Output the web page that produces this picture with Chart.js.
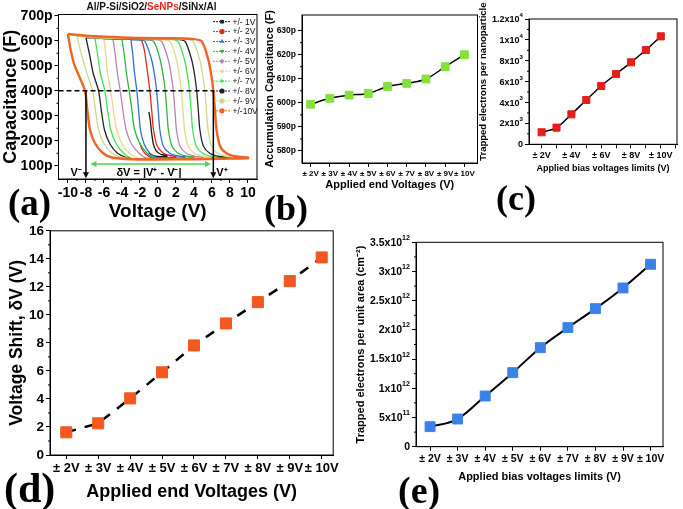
<!DOCTYPE html>
<html>
<head>
<meta charset="utf-8">
<script src="https://cdn.jsdelivr.net/npm/chart.js@4/dist/chart.umd.min.js"></script>
<style>
  body { margin: 0; background: #fff; width: 683px; height: 509px; position: relative; overflow: hidden; }
  canvas { position: absolute; }
  .tag { position: absolute; font-family: "Liberation Serif", "DejaVu Serif", serif; font-weight: bold; line-height: 1; color: #000; }
  #titleA { position: absolute; left: 0; width: 303px; top: 1px; text-align: center;
            font: bold 10px "Liberation Sans", Arial, sans-serif; color: #111; }
</style>
</head>
<body>
<canvas id="chartA"></canvas>
<canvas id="chartB"></canvas>
<canvas id="chartC"></canvas>
<canvas id="chartD"></canvas>
<canvas id="chartE"></canvas>
<div id="titleA">Al/P-Si/SiO2/<span style="color:#e3261b">SeNPs</span>/SiNx/Al</div>
<div class="tag" style="left:8px;top:184px;font-size:37px">(a)</div>
<div class="tag" style="left:264px;top:190px;font-size:36px">(b)</div>
<div class="tag" style="left:496px;top:180px;font-size:36px">(c)</div>
<div class="tag" style="left:4px;top:467px;font-size:42px">(d)</div>
<div class="tag" style="left:398px;top:471px;font-size:38px">(e)</div>
<script>
const SANS = '"Liberation Sans", Arial, sans-serif';

// ---- data (b)-(e): one point per sweep limit ----
const endVolts = [2, 3, 4, 5, 6, 7, 8, 9, 10];
const endLabels = ['± 2V', '± 3V', '± 4V', '± 5V', '± 6V', '± 7V', '± 8V', '± 9V', '± 10V'];
const accumCap = [599.4, 601.9, 603.2, 603.9, 606.8, 608.1, 609.9, 615.0, 620.0];   // pF
const trappedPerNP = [1200, 1660, 2990, 4420, 5820, 7010, 8180, 9410, 10770];
const voltageShift = [1.62, 2.26, 4.04, 5.9, 7.82, 9.39, 10.91, 12.41, 14.1];
const trappedPerArea = [0.343e12, 0.474e12, 0.868e12, 1.268e12, 1.696e12, 2.039e12, 2.364e12, 2.718e12, 3.124e12];

const npTickLabels = ['0', '2x10³', '4x10³', '6x10³', '8x10³', '1x10⁴', '1.2x10⁴'];
const areaTickLabels = ['0', '5x10¹¹', '1x10¹²', '1.5x10¹²', '2x10¹²', '2.5x10¹²', '3x10¹²', '3.5x10¹²'];

// ---- data (a): C-V hysteresis loops, [voltage, capacitance pF] ----
const loop1V = [[-1,315],[-0.85,280],[-0.7,230],[-0.5,185],[-0.2,160],[0.3,146],[1,141],
  [1,138],[0,137],[-0.6,142],[-1,150]];
const loop2V = [[-2,604],[-1.8,600],[-1.5,560],[-1.15,470],[-0.9,400],[-0.7,323],[-0.5,245],[-0.1,180],[0.6,150],[1.3,141],[2,138],
  [2,134],[0.5,131],[-0.8,134],[-1.4,148],[-1.8,168],[-2,190]];
const loop3V = [[-3,604],[-2,603],[-1.45,598],[-0.7,523],[-0.35,456],[-0.15,400],[0.03,323],[0.2,245],[0.6,178],[1.3,150],[2.2,139],[3,136],
  [3,132],[1,130],[-0.2,134],[-0.9,150],[-1.55,188],[-1.95,245],[-2.15,323],[-2.35,400],[-2.6,470],[-2.8,545],[-3,604]];
const loop4V = [[-4,605],[-2,605],[-0.5,598],[0.25,523],[0.6,456],[0.8,400],[0.98,323],[1.15,245],[1.55,178],[2.25,150],[3.2,138],[4,135],
  [4,131],[1,128],[-0.4,132],[-1.2,150],[-2.0,188],[-2.6,245],[-2.9,323],[-3.2,400],[-3.5,470],[-3.75,545],[-4,605]];
const loop5V = [[-5,606],[-3,606],[-0.5,605],[0.4,598],[1.15,523],[1.5,456],[1.7,400],[1.88,323],[2.05,245],[2.45,178],[3.15,150],[4.2,137],[5,134],
  [5,130],[2,128],[-1.2,130],[-2.1,150],[-2.95,188],[-3.55,245],[-3.9,323],[-4.2,400],[-4.5,470],[-4.75,545],[-5,606]];
const loop6V = [[-6,608],[-4,607],[-1,606],[1.3,598],[2.05,523],[2.4,456],[2.6,400],[2.78,323],[2.95,245],[3.35,178],[4.05,150],[5.1,137],[6,134],
  [6,130],[3,128],[-0.5,127],[-2.2,130],[-3.15,150],[-4.0,188],[-4.6,245],[-4.95,323],[-5.25,400],[-5.6,470],[-5.8,545],[-6,608]];
const loop7V = [[-7,610],[-5,608],[-2,607],[1,606],[2.2,598],[2.95,523],[3.3,456],[3.5,400],[3.68,323],[3.85,245],[4.25,178],[4.95,150],[6,137],[7,134],
  [7,130],[4,128],[0,126],[-2.8,128],[-3.8,150],[-4.65,188],[-5.25,245],[-5.6,323],[-5.9,400],[-6.4,470],[-6.7,545],[-7,610]];
const loop8V = [[-8,612],[-6,609],[-3,607],[0,606],[2,606],[3.0,598],[3.75,523],[4.1,456],[4.3,400],[4.48,323],[4.65,245],[5.05,178],[5.75,150],[6.8,137],[8,133],
  [8,130],[5,128],[1,126],[-2.5,127],[-3.5,133],[-4.5,150],[-5.35,188],[-5.95,245],[-6.3,323],[-6.6,400],[-7.2,470],[-7.6,545],[-8,612]];
const loop9V = [[-9,618],[-7,612],[-4,609],[0,607],[3,606],[3.9,598],[4.65,523],[5.0,456],[5.2,400],[5.38,323],[5.55,245],[5.95,178],[6.65,150],[7.7,137],[9,133],
  [9,130],[6,128],[2,126],[-2,126],[-4.1,133],[-5.1,150],[-6.0,188],[-6.6,245],[-6.95,323],[-7.25,400],[-7.9,470],[-8.5,545],[-9,618]];
const loop10V = [[-10,627],[-8,620],[-5,615],[-2,611],[1,610],[3.5,608],[4.85,598],[5.6,523],[5.95,456],[6.15,400],[6.33,323],[6.5,245],[6.9,178],[7.6,150],[8.7,137],[10,133],
  [10,130],[7,128],[4,126],[0,125],[-3,126],[-5.1,133],[-6.1,150],[-7,190],[-7.55,243],[-7.85,323],[-8.1,400],[-8.9,470],[-9.3,505],[-9.7,563],[-10,627]];

const loopLabels = ['+/- 1V', '+/- 2V', '+/- 3V', '+/- 4V', '+/- 5V', '+/- 6V', '+/- 7V', '+/- 8V', '+/- 9V', '+/-10V'];
const loopColors = ['#1a1a1a', '#e3261b', '#2f6fd0', '#29b83a', '#b784b4', '#e6d78a', '#3ee34e', '#222222', '#cdd98c', '#ef6420'];
const loopMarkers = [['rect', 0], ['circle', 0], ['triangle', 0], ['triangle', 180], ['rectRot', 0],
  ['triangle', -90], ['triangle', 90], ['circle', 0], ['circle', 0], ['circle', 0]];
const loops = [loop1V, loop2V, loop3V, loop4V, loop5V, loop6V, loop7V, loop8V, loop9V, loop10V];

// threshold voltages marked in (a)
const vMinus = -8, vPlus = 6.15, threshC = 400;

// ---- layout helper: put the plot area where it sits in the figure ----
function place(id, box, area, yTitleX, yTitleSize, xTitleY, xTitleSize) {
  const cv = document.getElementById(id);
  cv.width = box[2]; cv.height = box[3];
  cv.style.left = box[0] + 'px'; cv.style.top = box[1] + 'px';
  const half = s => s * 1.2 / 2;
  const left = Math.max(yTitleX - box[0] - half(yTitleSize), 0);
  const bottom = Math.max(box[1] + box[3] - xTitleY - half(xTitleSize), 0);
  return {
    cv,
    padding: { left, top: area[1] - box[1], right: box[0] + box[2] - area[2], bottom },
    yWidth: area[0] - box[0] - left,
    xHeight: box[1] + box[3] - bottom - area[3]
  };
}

function axis(fontSize, title, titleSize, extra) {
  return Object.assign({
    border: { display: true, color: '#000', width: 1 },
    grid: { drawOnChartArea: false, drawTicks: true, tickLength: 4, color: '#000', offset: false },
    ticks: { color: '#000', font: { family: SANS, size: fontSize, weight: 'bold' }, padding: 2,
             autoSkip: false, maxRotation: 0, minRotation: 0, includeBounds: false },
    title: { display: true, text: title, color: '#000', font: { family: SANS, size: titleSize, weight: 'bold' }, padding: 0 }
  }, extra);
}

function fitTo(size, horizontal) {
  return s => {
    if (horizontal) s.height = size; else s.width = size;
    s.paddingTop = 0; s.paddingBottom = 0; s.paddingLeft = 0; s.paddingRight = 0;
  };
}

// frame round the plot + small minor ticks
const framePlugin = {
  id: 'frame',
  afterDraw(chart) {
    const { ctx, chartArea: a } = chart;
    ctx.save();
    ctx.strokeStyle = '#000';
    ctx.lineWidth = 1;
    ctx.strokeRect(a.left, a.top, a.right - a.left, a.bottom - a.top);
    const minor = chart.options.plugins.frame || {};
    ['x', 'y'].forEach(k => {
      if (!minor[k]) return;
      const s = chart.scales[k];
      ctx.beginPath();
      for (let i = 0; i < s.ticks.length - 1; i++) {
        const p = s.getPixelForValue((s.ticks[i].value + s.ticks[i + 1].value) / 2);
        if (k === 'y') { ctx.moveTo(a.left, p); ctx.lineTo(a.left - 2, p); }
        else { ctx.moveTo(p, a.bottom); ctx.lineTo(p, a.bottom + 2); }
      }
      ctx.stroke();
    });
    ctx.restore();
  }
};

// y tick labels such as 2x10³ written with a real raised exponent
const SUP = '⁰¹²³⁴⁵⁶⁷⁸⁹';
const sciTicks = {
  id: 'sciTicks',
  afterDraw(chart) {
    const o = chart.options.plugins.sciTicks;
    if (!o) return;
    const { ctx, chartArea: a, scales: { y } } = chart;
    ctx.save();
    ctx.fillStyle = '#000';
    ctx.textBaseline = 'middle';
    ctx.textAlign = 'left';
    y.ticks.forEach(t => {
      const lab = o.labels[Math.round(t.value / o.step)];
      if (lab === undefined) return;
      const py = y.getPixelForValue(t.value);
      let base = lab, exp = '';
      const k = lab.indexOf('x10');
      if (k >= 0) {
        base = lab.slice(0, k + 3);
        exp = lab.slice(k + 3).split('').map(ch => SUP.indexOf(ch)).join('');
      }
      const bf = 'bold ' + o.size + 'px ' + SANS, ef = 'bold ' + (o.size * 0.68) + 'px ' + SANS;
      ctx.font = ef; const ew = ctx.measureText(exp).width;
      ctx.font = bf; const bw = ctx.measureText(base).width;
      const right = a.left - 6;
      ctx.fillText(base, right - ew - bw, py + 0.5);
      ctx.font = ef;
      ctx.fillText(exp, right - ew, py - o.size * 0.42);
    });
    ctx.restore();
  }
};

function arrowHead(ctx, x, y, dx, dy) {
  ctx.beginPath();
  ctx.moveTo(x, y);
  ctx.lineTo(x - dx * 6 - dy * 3, y - dy * 6 - dx * 3);
  ctx.lineTo(x - dx * 6 + dy * 3, y - dy * 6 + dx * 3);
  ctx.closePath();
  ctx.fill();
}

// legend inside the plot and the V-/V+ markings of panel (a)
const cvMarks = {
  id: 'cvMarks',
  afterDatasetsDraw(chart) {
    const { ctx, chartArea: a, scales: { x, y } } = chart;
    ctx.save();
    // legend
    ctx.font = '8.5px ' + SANS;
    ctx.textBaseline = 'middle';
    loopLabels.forEach((lab, i) => {
      const ly = 21.7 + i * 9.9;
      ctx.strokeStyle = loopColors[i];
      ctx.fillStyle = loopColors[i];
      ctx.lineWidth = 1;
      ctx.setLineDash([2, 1]);
      ctx.beginPath(); ctx.moveTo(213, ly); ctx.lineTo(230, ly); ctx.stroke();
      ctx.setLineDash([]);
      Chart.helpers.drawPoint(ctx, { pointStyle: loopMarkers[i][0], rotation: loopMarkers[i][1], radius: 2.6, borderWidth: 0 }, 222, ly);
      ctx.fillStyle = '#111';
      ctx.fillText(lab, 232.5, ly + 0.5);
    });
    // dashed threshold line
    const yT = y.getPixelForValue(threshC);
    ctx.strokeStyle = '#000';
    ctx.lineWidth = 1.3;
    ctx.setLineDash([5, 3]);
    ctx.beginPath(); ctx.moveTo(a.left, yT); ctx.lineTo(x.getPixelForValue(vPlus), yT); ctx.stroke();
    ctx.setLineDash([]);
    // V- and V+ arrows
    ctx.fillStyle = '#000';
    ctx.lineWidth = 1.5;
    const yEnd = y.getPixelForValue(50);
    [vMinus, vPlus].forEach(v => {
      const px = x.getPixelForValue(v);
      ctx.beginPath(); ctx.moveTo(px, yT); ctx.lineTo(px, yEnd - 4); ctx.stroke();
      arrowHead(ctx, px, yEnd, 0, 1);
    });
    // green double arrow
    const yG = y.getPixelForValue(107);
    const gx1 = x.getPixelForValue(-7.5), gx2 = x.getPixelForValue(5.9);
    ctx.strokeStyle = '#52d24a'; ctx.fillStyle = '#52d24a'; ctx.lineWidth = 1.5;
    ctx.beginPath(); ctx.moveTo(gx1 + 4, yG); ctx.lineTo(gx2 - 4, yG); ctx.stroke();
    arrowHead(ctx, gx1, yG, -1, 0);
    arrowHead(ctx, gx2, yG, 1, 0);
    // texts
    ctx.fillStyle = '#000';
    ctx.font = 'bold 11px ' + SANS;
    ctx.textAlign = 'center';
    const yTxt = y.getPixelForValue(72);
    ctx.fillText('V⁻', x.getPixelForValue(-9.1), yTxt);
    ctx.fillText('V⁺', x.getPixelForValue(7.1), yTxt);
    ctx.fillText('δV = |V⁺ - V⁻|', x.getPixelForValue(-1.0), yTxt);
    ctx.restore();
  }
};

const common = {
  responsive: false, maintainAspectRatio: false, animation: false, devicePixelRatio: 1, events: [],
};

// ---------- (a) ----------
{
  const L = place('chartA', [0, 0, 262, 225], [58.5, 14.5, 257, 179], 10, 18, 212, 19);
  const xAxis = axis(14, 'Voltage (V)', 19, { type: 'linear', min: -11.05, max: 11, afterFit: fitTo(L.xHeight, true) });
  xAxis.ticks.stepSize = 2;
  const yAxis = axis(14, 'Capacitance (F)', 18, { type: 'linear', min: 47, max: 705, afterFit: fitTo(L.yWidth, false) });
  yAxis.ticks.stepSize = 100;
  yAxis.ticks.callback = v => v + 'p';
  new Chart(L.cv, {
    type: 'line',
    data: {
      datasets: loops.map((lp, i) => ({
        label: loopLabels[i],
        data: lp.map(([v, c]) => ({ x: v, y: c })),
        borderColor: loopColors[i],
        borderWidth: i === 9 ? 2.4 : 1.3,
        pointRadius: 0,
        tension: 0.25,
        fill: false,
        order: 10 - i
      }))
    },
    options: Object.assign({}, common, {
      layout: { padding: L.padding },
      plugins: { legend: { display: false }, tooltip: { enabled: false }, frame: { x: true, y: true } },
      scales: { x: xAxis, y: yAxis }
    }),
    plugins: [framePlugin, cvMarks]
  });
}

function endChart(id, box, area, yTitleX, yTitleSize, xTitleY, xTitleSize, o) {
  const L = place(id, box, area, yTitleX, yTitleSize, xTitleY, xTitleSize);
  const xAxis = axis(o.xTick, o.xTitle, xTitleSize, { type: 'linear', min: o.xMin, max: o.xMax, afterFit: fitTo(L.xHeight, true) });
  xAxis.ticks.stepSize = 1;
  xAxis.ticks.callback = v => {
    const i = endVolts.indexOf(v);
    if (i < 0) return '';
    return (o.everyOther && i % 2) ? '' : endLabels[i];
  };
  const yAxis = axis(o.yTick, o.yTitle, yTitleSize, { type: 'linear', min: o.yMin, max: o.yMax, afterFit: fitTo(L.yWidth, false) });
  yAxis.ticks.stepSize = o.yStep;
  if (o.sci) yAxis.ticks.display = false;
  else yAxis.ticks.callback = o.yFmt;
  return new Chart(L.cv, {
    type: 'line',
    data: {
      datasets: [{
        data: endVolts.map((v, i) => ({ x: v, y: o.values[i] })),
        borderColor: '#000',
        borderWidth: o.lineWidth,
        borderDash: o.dash || [],
        tension: o.tension,
        cubicInterpolationMode: o.tension ? 'monotone' : 'default',
        pointStyle: 'rect',
        pointRadius: o.pointRadius,
        pointBackgroundColor: o.color,
        pointBorderColor: o.color,
        pointBorderWidth: 1
      }]
    },
    options: Object.assign({}, common, {
      layout: { padding: L.padding },
      plugins: { legend: { display: false }, tooltip: { enabled: false }, frame: { y: true },
                 sciTicks: o.sci ? { labels: o.sci, step: o.yStep, size: o.yTick } : null },
      scales: { x: xAxis, y: yAxis }
    }),
    plugins: [framePlugin, sciTicks]
  });
}

// ---------- (b) ----------
endChart('chartB', [262, 0, 222, 200], [302, 15, 480, 163], 270, 11, 185, 11, {
  values: accumCap, color: '#84e03c', pointRadius: 5.5, lineWidth: 1.5, tension: 0.4,
  xMin: 1.554, xMax: 10.68, xTick: 8, xTitle: 'Applied end Voltages (V)',
  yMin: 575, yMax: 636.5, yStep: 10, yTick: 8.5, yTitle: 'Accumulation Capacitance (F)',
  yFmt: v => v + 'p'
});

// ---------- (c) ----------
endChart('chartC', [476, 0, 207, 200], [529, 19, 678, 144.3], 483.5, 9.5, 169, 9, {
  values: trappedPerNP, color: '#e51d1d', pointRadius: 5, lineWidth: 1.5, tension: 0.4, everyOther: true,
  xMin: 1.153, xMax: 11.09, xTick: 9, xTitle: 'Applied bias voltages limits (V)',
  yMin: 0, yMax: 12500, yStep: 2000, yTick: 9, yTitle: 'Trapped electrons per nanoparticle',
  sci: npTickLabels
});

// ---------- (d) ----------
endChart('chartD', [0, 222, 342, 287], [50, 230.7, 342, 455], 17, 17.5, 492, 18, {
  values: voltageShift, color: '#f2581f', pointRadius: 7.8, lineWidth: 2.5, tension: 0, dash: [10, 9],
  xMin: 1.49, xMax: 10.36, xTick: 13, xTitle: 'Applied end Voltages (V)',
  yMin: 0, yMax: 16, yStep: 2, yTick: 13.5, yTitle: 'Voltage Shift, δV (V)',
  yFmt: v => v
});

// ---------- (e) ----------
endChart('chartE', [342, 222, 341, 287], [416, 242.3, 663, 446.7], 360.7, 11, 477, 11, {
  values: trappedPerArea, color: '#3b82e8', pointRadius: 7, lineWidth: 2, tension: 0.4,
  xMin: 1.49, xMax: 10.45, xTick: 10.5, xTitle: 'Applied bias voltages limits (V)',
  yMin: 0, yMax: 3.5e12, yStep: 0.5e12, yTick: 10.5, yTitle: 'Trapped electrons per unit area (cm⁻²)',
  sci: areaTickLabels
});
</script>
</body>
</html>
